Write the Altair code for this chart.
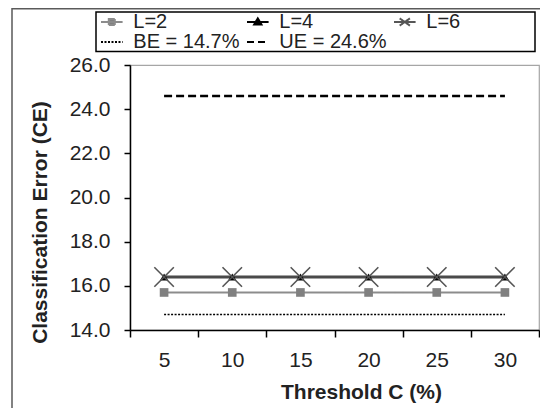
import altair as alt
import pandas as pd

# ---- data ----
thresholds = [5, 10, 15, 20, 25, 30]
ce_L2 = [15.7, 15.7, 15.7, 15.7, 15.7, 15.7]
ce_L4 = [16.4, 16.4, 16.4, 16.4, 16.4, 16.4]
ce_L6 = [16.4, 16.4, 16.4, 16.4, 16.4, 16.4]
ce_BE = [14.7, 14.7, 14.7, 14.7, 14.7, 14.7]
ce_UE = [24.6, 24.6, 24.6, 24.6, 24.6, 24.6]
series_names = ["L=2", "L=4", "L=6", "BE = 14.7%", "UE = 24.6%"]
y_ticks = [14, 16, 18, 20, 22, 24, 26]

values = [ce_L2, ce_L4, ce_L6, ce_BE, ce_UE]
rows = []
for name, vals in zip(series_names, values):
    for c, v in zip(thresholds, vals):
        rows.append({"C": c, "CE": v, "series": name})
df = pd.DataFrame(rows)

FONT = "Liberation Sans"

x_enc = alt.X(
    "C:O",
    scale=alt.Scale(type="band", paddingInner=0, paddingOuter=0),
    axis=alt.Axis(
        title="Threshold C (%)",
        labelAngle=0,
        tickBand="extent",
        tickSize=7,
        labelPadding=12,
        titleX=231,
        titleY=62,
        titleAlign="center",
        titleBaseline="middle",
    ),
)
y_enc = alt.Y(
    "CE:Q",
    scale=alt.Scale(domain=[14, 26], nice=False, zero=False),
    axis=alt.Axis(
        title="Classification Error (CE)",
        values=y_ticks,
        format=".1f",
        tickSize=6,
        labelPadding=14,
        titleX=-90,
        titleY=157,
        titleAngle=270,
        titleAlign="center",
        titleBaseline="middle",
        grid=False,
    ),
)

base = alt.Chart(df)

line_styles = {
    "L=2": dict(color="#8c8c8c", strokeWidth=2, strokeDash=[1, 0]),
    "L=4": dict(color="#000000", strokeWidth=2.5, strokeDash=[1, 0]),
    "L=6": dict(color="#4a4a4a", strokeWidth=2.5, strokeDash=[1, 0]),
    "BE = 14.7%": dict(color="#000000", strokeWidth=1.5, strokeDash=[2, 1.5]),
    "UE = 24.6%": dict(color="#000000", strokeWidth=2.5, strokeDash=[8, 4]),
}

layers = []

one_row = pd.DataFrame({"a": [0]})

# outer frame (decoration)
frame = alt.Chart(one_row).mark_rect(
    fill="transparent", stroke="#5a5a5a", strokeWidth=1.5
).encode(
    x=alt.value(-118), x2=alt.value(600), y=alt.value(-56.2), y2=alt.value(500)
)
layers.append(frame)

# legend box (decoration)
legend_box = alt.Chart(one_row).mark_rect(
    fill="transparent", stroke="#000000", strokeWidth=1.5
).encode(
    x=alt.value(-34), x2=alt.value(405), y=alt.value(-53), y2=alt.value(-13.5)
)
layers.append(legend_box)

for name in series_names:
    st = line_styles[name]
    layers.append(
        base.transform_filter(alt.datum.series == name)
        .mark_line(**st)
        .encode(x=x_enc, y=y_enc)
    )

# markers
layers.append(
    base.transform_filter(alt.datum.series == "L=2")
    .mark_point(shape="square", size=75, filled=True, color="#808080", opacity=1)
    .encode(x=x_enc, y=y_enc)
)
layers.append(
    base.transform_filter(alt.datum.series == "L=4")
    .mark_point(shape="triangle-up", size=70, filled=True, color="#000000", opacity=1)
    .encode(x=x_enc, y=y_enc)
)
layers.append(
    base.transform_filter(alt.datum.series == "L=6")
    .mark_point(
        shape="M-1,-1L1,1M-1,1L1,-1",
        size=380,
        filled=False,
        color="#555555",
        strokeWidth=1.6,
        opacity=1,
    )
    .encode(x=x_enc, y=y_enc)
)

# legend-only layer (no data drawn)
leg = alt.Legend(
    orient="none",
    direction="horizontal",
    legendX=-34,
    legendY=-54,
    columns=3,
    title=None,
    padding=1,
    labelFont=FONT,
    labelFontSize=20,
    labelColor="#222222",
    symbolSize=144,
    symbolStrokeWidth=2,
    symbolOffset=4.8,
    labelOffset=11.5,
    columnPadding=3,
    rowPadding=-3,
)
legend_shapes = [
    "M-1.8,0H1.8M-0.5,-0.5H0.5V0.5H-0.5Z",
    "M-1.8,0H1.8M0,-0.6L0.6,0.4H-0.6Z",
    "M-1.8,0H1.8M-0.85,-0.6L0.85,0.6M-0.85,0.6L0.85,-0.6",
    "M-1.8,0H1.8",
    "M-1.8,0H1.8",
]
legend_strokes = ["#8c8c8c", "#000000", "#555555", "#000000", "#000000"]
legend_fills = ["#808080", "#000000", "#555555", "transparent", "transparent"]
legend_dashes = [[1, 0], [1, 0], [1, 0], [2, 1.5], [7, 4]]

legend_layer = (
    base.transform_filter("false")
    .mark_point(size=144, filled=False, strokeWidth=2, opacity=1)
    .encode(
        x=x_enc,
        y=y_enc,
        shape=alt.Shape("series:N", scale=alt.Scale(domain=series_names, range=legend_shapes), legend=leg),
        stroke=alt.Stroke("series:N", scale=alt.Scale(domain=series_names, range=legend_strokes), legend=leg),
        fill=alt.Fill("series:N", scale=alt.Scale(domain=series_names, range=legend_fills), legend=leg),
        strokeDash=alt.StrokeDash("series:N", scale=alt.Scale(domain=series_names, range=legend_dashes), legend=leg),
    )
)
layers.append(legend_layer)

chart = (
    alt.layer(*layers)
    .properties(
        width=409,
        height=265,
        autosize=alt.AutoSizeParams(type="none"),
        padding={"left": 122, "top": 57, "right": 1, "bottom": 78},
    )
    .configure(background="white")
    .configure_view(stroke="#a6a6a6", strokeWidth=1.2)
    .configure_axis(
        labelFont=FONT,
        titleFont=FONT,
        labelFontSize=21,
        titleFontSize=21,
        titleFontWeight="bold",
        labelColor="#222222",
        titleColor="#222222",
        domainColor="#000000",
        domainWidth=1.5,
        tickColor="#000000",
        tickWidth=1.5,
        grid=False,
    )
)

chart.save("out.html", embed_options={"renderer": "svg", "actions": False})
